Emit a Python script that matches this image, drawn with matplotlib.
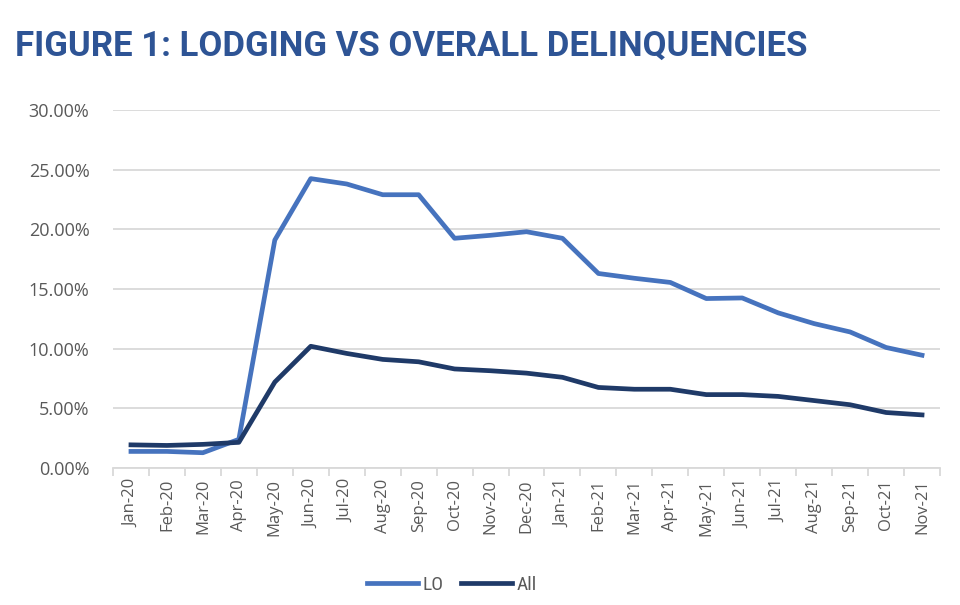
import matplotlib

matplotlib.use("Agg")

import matplotlib.pyplot as plt
import numpy as np
from matplotlib import font_manager
from matplotlib.ticker import FixedLocator, FuncFormatter

months = [
    "Jan-20", "Feb-20", "Mar-20", "Apr-20", "May-20", "Jun-20", "Jul-20", "Aug-20",
    "Sep-20", "Oct-20", "Nov-20", "Dec-20", "Jan-21", "Feb-21", "Mar-21", "Apr-21",
    "May-21", "Jun-21", "Jul-21", "Aug-21", "Sep-21", "Oct-21", "Nov-21",
]

# delinquency rates in percent
lodging = [
    1.39, 1.39, 1.28, 2.4, 19.1, 24.25, 23.8, 22.9, 22.9, 19.25, 19.5, 19.8,
    19.25, 16.3, 15.9, 15.55, 14.2, 14.25, 13.0, 12.1, 11.4, 10.1, 9.45,
]
overall = [
    1.94, 1.89, 1.98, 2.15, 7.2, 10.2, 9.6, 9.1, 8.9, 8.3, 8.15, 7.95,
    7.6, 6.75, 6.6, 6.6, 6.15, 6.15, 6.0, 5.65, 5.3, 4.65, 4.45,
]

series_names = ["LO", "All"]

TITLE = "FIGURE 1: LODGING VS OVERALL DELINQUENCIES"
LO_COLOR = "#4673BE"
ALL_COLOR = "#1F3A68"
TEXT_GREY = "#595959"
GRID_GREY = "#D9D9D9"

installed = {f.name for f in font_manager.fontManager.ttflist}
legend_font = next(
    (n for n in ["Roboto Condensed", "Archivo Narrow", "Asap Condensed"] if n in installed),
    "DejaVu Sans",
)

fig = plt.figure(figsize=(9.6, 6.05), dpi=100)
ax = fig.add_axes([113 / 960, 1 - 468 / 605, (940 - 113) / 960, (468 - 110) / 605])

x = np.arange(len(months))
ax.plot(x, lodging, color=LO_COLOR, lw=3.4, label=series_names[0])
ax.plot(x, overall, color=ALL_COLOR, lw=3.4, label=series_names[1])

ax.set_xlim(-0.5, len(months) - 0.5)
ax.set_ylim(0, 30)
ax.set_yticks(np.arange(0, 31, 5))
ax.yaxis.set_major_formatter(FuncFormatter(lambda v, _: f"{v:.2f}%"))
ax.grid(axis="y", color=GRID_GREY, lw=1.3)
ax.set_axisbelow(True)

ax.set_xticks(x)
ax.set_xticklabels(months, rotation=90, fontsize=12, color=TEXT_GREY, family="Open Sans")
ax.xaxis.set_minor_locator(FixedLocator(np.arange(-0.5, len(months), 1)))
ax.tick_params(axis="x", which="major", length=0, pad=8)
ax.tick_params(axis="x", which="minor", length=6, color=GRID_GREY, width=1.3)
ax.tick_params(axis="y", length=0, pad=17, labelsize=13, labelcolor=TEXT_GREY)
for lab in ax.get_yticklabels():
    lab.set_family("Open Sans")

for side in ("top", "right", "left"):
    ax.spines[side].set_visible(False)
ax.spines["bottom"].set_color(GRID_GREY)
ax.spines["bottom"].set_linewidth(1.3)

fig.text(15 / 960, 1 - 46 / 605, TITLE, fontsize=25, fontweight="bold", color="#2E5495",
         family=["Roboto", "DejaVu Sans"], va="center", ha="left")

fig.legend(loc="center", bbox_to_anchor=(452 / 960, 1 - 585 / 605), ncol=2, frameon=False,
           handlelength=2.6, columnspacing=0.9, handletextpad=0.25,
           prop={"family": [legend_font, "DejaVu Sans"], "size": 14},
           labelcolor=TEXT_GREY)

fig.savefig("out.png", dpi=100)
